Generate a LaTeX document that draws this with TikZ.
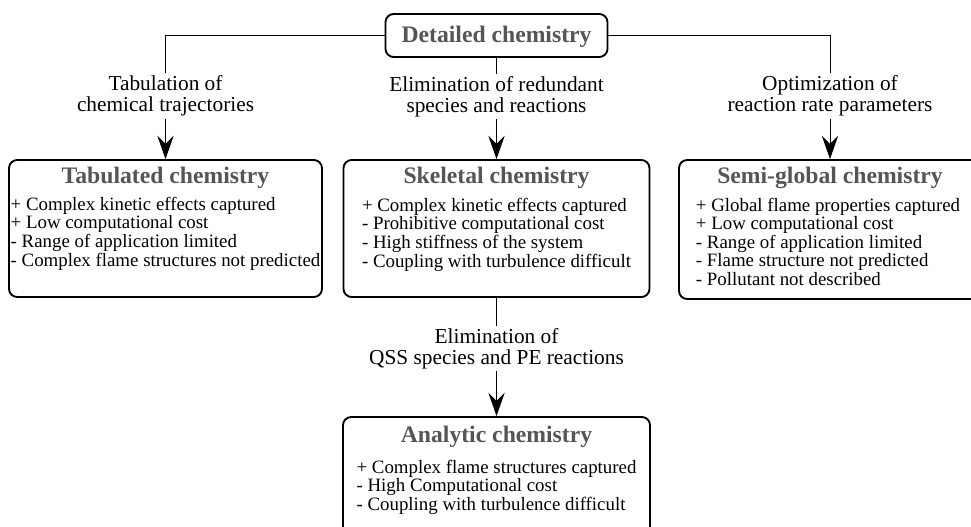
\documentclass[tikz,border=0pt]{standalone}
\usepackage{fontspec}
\setmainfont{Liberation Serif}
\usetikzlibrary{arrows.meta}
\definecolor{titlegray}{RGB}{85,85,85}

\begin{document}
\begin{tikzpicture}[x=0.03cm,y=-0.03cm]
\useasboundingbox (0,0) rectangle (971,526);
\clip (0,0) rectangle (971,526);

\begin{scope}[every node/.style={draw,rounded corners=7pt,line width=1.6pt}]
  \node[minimum width=6.66cm,minimum height=1.29cm] (det) at (496.5,35.5) {};
  \node[minimum width=9.39cm,minimum height=4.11cm] (tab) at (165.5,228.5) {};
  \node[minimum width=9.18cm,minimum height=4.11cm] (skel) at (496.5,228.5) {};
  \node[minimum width=9.06cm,minimum height=4.17cm] (semi) at (830,229.5) {};
  \node[minimum width=9.21cm,minimum height=3.54cm] (ana) at (496.5,476) {};
\end{scope}

\begin{scope}[every node/.style={anchor=base,inner sep=0pt,text=titlegray,
              font=\fontsize{20.2}{20}\selectfont\bfseries}]
  \node (dettitle) at (496.5,42) {Detailed chemistry};
  \node (tabtitle) at (165.5,183) {Tabulated chemistry};
  \node (skeltitle) at (496.5,183) {Skeletal chemistry};
  \node (semititle) at (830,183) {Semi-global chemistry};
  \node (anatitle) at (496.5,442) {Analytic chemistry};
\end{scope}

\begin{scope}[every node/.style={anchor=base,inner sep=0pt,
              font=\fontsize{16.1}{15.6}\selectfont}]
  \node (tabtext) at (165.5,210) {\begin{tabular}[t]{@{}l@{}}
    + Complex kinetic effects captured\\
    + Low computational cost\\
    - Range of application limited\\
    - Complex flame structures not predicted\end{tabular}};
  \node (skeltext) at (496.5,211) {\begin{tabular}[t]{@{}l@{}}
    + Complex kinetic effects captured\\
    - Prohibitive computational cost\\
    - High stiffness of the system\\
    - Coupling with turbulence difficult\end{tabular}};
  \node (semitext) at (828,211) {\begin{tabular}[t]{@{}l@{}}
    + Global flame properties captured\\
    + Low computational cost\\
    - Range of application limited\\
    - Flame structure not predicted\\
    - Pollutant not described\end{tabular}};
  \node (anatext) at (496.5,473) {\begin{tabular}[t]{@{}l@{}}
    + Complex flame structures captured\\
    - High Computational cost\\
    - Coupling with turbulence difficult\end{tabular}};
\end{scope}

\begin{scope}[>={Stealth[length=20pt,width=14pt,inset=7pt]},line width=0.85pt,
              every node/.style={fill=white,align=center,inner sep=2pt,
              font=\fontsize{18.2}{18}\selectfont}]
  \draw [->] (det.west) -| node[pos=0.745] (tablbl) {Tabulation of\\chemical trajectories} (tab.north);
  \draw [->] (det) -- node[pos=0.38] (skellbl) {Elimination of redundant\\species and reactions} (skel);
  \draw [->] (det.east) -| node[pos=0.745] (semilbl) {Optimization of\\reaction rate parameters} (semi.north);
  \draw [->] (skel) -- node[pos=0.43] (analbl) {Elimination of\\QSS species and PE reactions} (ana);
\end{scope}
\end{tikzpicture}
\end{document}
